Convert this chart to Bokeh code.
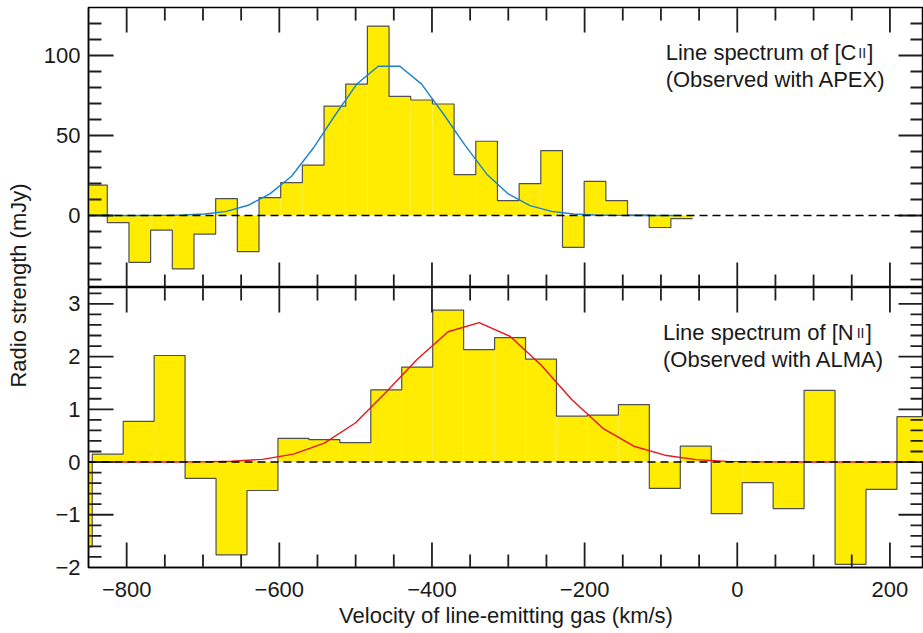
import numpy as np
from bokeh.plotting import figure
from bokeh.layouts import row, column
from bokeh.models import (Range1d, LinearAxis, SingleIntervalTicker, Span, Label,
                          CustomJSTickFormatter, ColumnDataSource)
from bokeh.embed import file_html
from bokeh.resources import INLINE

# ---------------- data ----------------
cii_velocity = [-839.6, -811.2, -782.8, -754.4, -726.0, -697.6, -669.2, -640.8, -612.4, -584.0,
                -555.6, -527.2, -498.8, -470.4, -442.0, -413.6, -385.2, -356.8, -328.4, -300.0,
                -271.6, -243.2, -214.8, -186.4, -158.0, -129.6, -101.2, -72.8]
cii_flux = [19.0, -4.4, -29.3, -9.1, -33.4, -11.6, 10.6, -22.6, 11.2, 20.5,
            31.5, 68.4, 82.1, 118.4, 74.4, 72.2, 69.7, 25.5, 46.4, 9.3,
            19.9, 40.6, -19.9, 21.3, 9.3, 0.3, -7.5, -1.9]
cii_fit = [0.0, 0.0, 0.0, 0.08, 0.3, 0.94, 2.6, 6.4, 13.5, 24.5,
           42.0, 62.5, 82.0, 93.3, 93.3, 82.1, 63.6, 44.0, 26.0, 13.5,
           6.2, 2.6, 0.94, 0.3, 0.08, 0.0, 0.0, 0.0]

nii_velocity = [-865.4, -824.8, -784.3, -743.7, -703.2, -662.6, -622.1, -581.5, -541.0, -500.4,
                -459.9, -419.3, -378.8, -338.2, -297.7, -257.1, -216.6, -176.0, -135.5, -94.9,
                -54.4, -13.8, 26.7, 67.3, 107.8, 148.4, 188.9, 229.5]
nii_flux = [-1.61, 0.15, 0.77, 2.02, -0.31, -1.76, -0.54, 0.45, 0.425, 0.37,
            1.37, 1.80, 2.88, 2.13, 2.36, 1.95, 0.87, 0.89, 1.09, -0.50,
            0.30, -0.98, -0.39, -0.885, 1.36, -1.94, -0.52, 0.86]
nii_fit = [0.0, 0.0, 0.0, 0.001, 0.004, 0.016, 0.05, 0.15, 0.36, 0.74,
           1.33, 1.95, 2.47, 2.645, 2.385, 1.84, 1.18, 0.64, 0.30, 0.13,
           0.045, 0.013, 0.003, 0.0, 0.0, 0.0, 0.0, 0.0]

x_label = "Velocity of line-emitting gas (km/s)"
y_label = "Radio strength (mJy)"

# ---------------- styling ----------------
FONT = "Liberation Sans"
TXT = "#1a1a1a"
YELLOW = "#FFEC00"
TICK_COLOR = "#1e1e1e"
X_START, X_END = -850, 244
FRAME_W = 835
LEFT_BORDER = 48
X_MAJOR, X_MINOR = 200, 50
MAJOR_LEN, MINOR_LEN = 25, 13
INSET = 0.75  # px: start ticks just inside the frame edge

minus_fmt = "return tick < 0 ? '\u2212' + (-tick) : String(tick);"


def edges_from_centers(c):
    c = np.asarray(c, float)
    w = c[1] - c[0]
    mids = (c[:-1] + c[1:]) / 2
    return np.concatenate([[c[0] - w / 2], mids, [c[-1] + w / 2]])


def tick_positions(lo, hi, step):
    start = np.ceil(lo / step - 1e-9) * step
    vals = np.arange(start, hi + step * 1e-6, step)
    return [float(v) for v in np.round(vals, 6)]


def add_inner_ticks(p, yr, y_major, y_minor, frame_h):
    """Inward-pointing tick marks on all four frame edges."""
    dxp = (X_END - X_START) / FRAME_W
    dyp = (yr[1] - yr[0]) / frame_h
    xs_major = [v for v in tick_positions(X_START, X_END, X_MAJOR)
                if X_START < v < X_END]
    xs_minor = [v for v in tick_positions(X_START, X_END, X_MINOR)
                if X_START < v < X_END and min(abs(m - v) for m in xs_major) > 1e-6]
    ys_major = [v for v in tick_positions(yr[0], yr[1], y_major) if yr[0] < v < yr[1]]
    ys_minor = [v for v in tick_positions(yr[0], yr[1], y_minor)
                if yr[0] < v < yr[1] and min(abs(m - v) for m in ys_major) > y_minor * 1e-3]
    top_in = yr[1] - INSET * dyp
    bot_in = yr[0] + INSET * dyp
    left_in = X_START + INSET * dxp
    right_in = X_END - INSET * dxp
    x0, y0, x1, y1 = [], [], [], []
    for xs, ln in ((xs_major, MAJOR_LEN), (xs_minor, MINOR_LEN)):
        for x in xs:
            x0 += [x, x]; x1 += [x, x]
            y0 += [top_in, bot_in]; y1 += [yr[1] - ln * dyp, yr[0] + ln * dyp]
    for ys, ln in ((ys_major, MAJOR_LEN), (ys_minor, MINOR_LEN)):
        for y in ys:
            x0 += [left_in, right_in]; x1 += [X_START + ln * dxp, X_END - ln * dxp]
            y0 += [y, y]; y1 += [y, y]
    src = ColumnDataSource(data=dict(x0=x0, y0=y0, x1=x1, y1=y1))
    p.segment(x0="x0", y0="y0", x1="x1", y1="y1", source=src,
              line_color=TICK_COLOR, line_width=1.8)


def style_axis(ax):
    ax.axis_line_color = "black"
    ax.axis_line_width = 1.5
    ax.major_tick_in = 0
    ax.major_tick_out = 0
    ax.minor_tick_in = 0
    ax.minor_tick_out = 0
    ax.major_tick_line_color = None
    ax.minor_tick_line_color = None
    ax.major_label_text_font = FONT
    ax.major_label_text_font_size = "22px"
    ax.major_label_text_color = TXT
    ax.formatter = CustomJSTickFormatter(code=minus_fmt)


def make_panel(vel, flux, fit, fit_color, yr, y_major, y_minor, frame_h, bottom_labels, top_border):
    p = figure(frame_width=FRAME_W, frame_height=frame_h,
               x_range=Range1d(X_START, X_END), y_range=Range1d(*yr),
               output_backend="svg", toolbar_location=None,
               x_axis_location=None, y_axis_location=None,
               min_border_left=LEFT_BORDER, min_border_right=0,
               min_border_top=top_border, min_border_bottom=0,
               background_fill_color="white", border_fill_color="white",
               outline_line_color="black", outline_line_width=1.5)
    p.grid.visible = False

    yax = LinearAxis(ticker=SingleIntervalTicker(interval=y_major))
    style_axis(yax)
    yax.major_label_standoff = 8
    p.add_layout(yax, "left")
    if bottom_labels:
        xax = LinearAxis(ticker=SingleIntervalTicker(interval=X_MAJOR))
        style_axis(xax)
        xax.major_label_standoff = 14
        xax.axis_label = x_label
        xax.axis_label_text_font = FONT
        xax.axis_label_text_font_size = "22px"
        xax.axis_label_text_font_style = "normal"
        xax.axis_label_text_color = TXT
        xax.axis_label_standoff = 3
        p.add_layout(xax, "below")

    e = edges_from_centers(vel)
    p.quad(left=e[:-1], right=e[1:], bottom=0, top=flux,
           fill_color=YELLOW, line_color=None)
    p.step(x=e, y=list(flux) + [flux[-1]], mode="after",
           line_color="#505050", line_width=1.2)
    p.line(vel, fit, line_color=fit_color, line_width=1.4)
    add_inner_ticks(p, yr, y_major, y_minor, frame_h)
    p.add_layout(Span(location=0, dimension="width", line_color="black",
                      line_dash="8 5", line_width=1.5))
    return p


p1 = make_panel(cii_velocity, cii_flux, cii_fit, "#1a82c8", (-45, 130), 50, 10, 280, False, 7)
p2 = make_panel(nii_velocity, nii_flux, nii_fit, "#e8141e", (-2.0, 3.31), 1, 0.2, 280, True, 0)


def add_title(p, x, y1, y2, elem, numeral_x, bracket_x, obs):
    common = dict(text_font=FONT, text_color=TXT, text_baseline="alphabetic")
    p.add_layout(Label(x=x, y=y1, text="Line spectrum of [" + elem,
                       text_font_size="22px", **common))
    p.add_layout(Label(x=numeral_x, y=y1, text="II", text_font_size="14px", **common))
    p.add_layout(Label(x=bracket_x, y=y1, text="]", text_font_size="22px", **common))
    p.add_layout(Label(x=x, y=y2, text=obs, text_font_size="22px", **common))


add_title(p1, -93.8, 101.6, 85.3, "C", 158.5, 170.3, "(Observed with APEX)")
add_title(p2, -97.3, 2.45, 1.944, "N", 156.5, 168.2, "(Observed with ALMA)")

lab = figure(width=40, height=567, x_range=Range1d(0, 40), y_range=Range1d(0, 567),
             output_backend="svg", toolbar_location=None,
             x_axis_location=None, y_axis_location=None,
             min_border=0, outline_line_color=None)
lab.grid.visible = False
lab.add_layout(Label(x=18, y=282, text=y_label, angle=90, angle_units="deg",
                     text_align="center", text_baseline="middle",
                     text_font=FONT, text_font_size="22px", text_color=TXT))

layout = row(lab, column(p1, p2))

open("out.html", "w").write(file_html(layout, INLINE))
